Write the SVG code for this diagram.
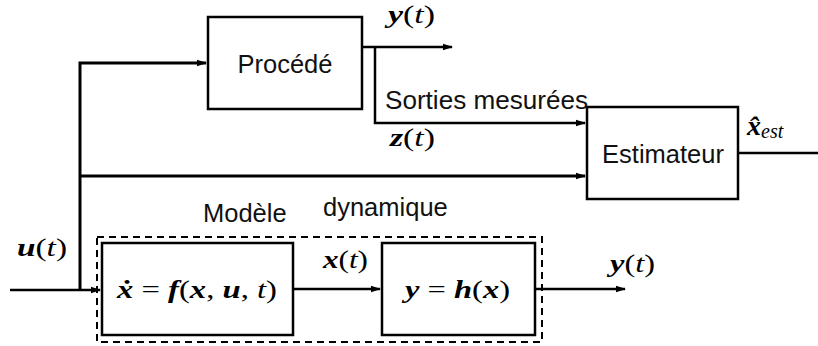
<svg xmlns="http://www.w3.org/2000/svg" width="818" height="346" viewBox="0 0 818 346">
<defs>
<marker id="ah" markerWidth="10" markerHeight="8" refX="9" refY="4" orient="auto" markerUnits="userSpaceOnUse">
<path d="M0,0.8 L10,4 L0,7.2 Z" fill="#000"/>
</marker>
<style>
.box{fill:#fff;stroke:#000;stroke-width:2.5}
.dash{fill:none;stroke:#000;stroke-width:2;stroke-dasharray:7,5}
.ln{fill:none;stroke:#000;stroke-width:2.5}
.thk{fill:none;stroke:#000;stroke-width:3}
.lbl{font-family:"Liberation Sans",Arial,sans-serif;font-size:25.5px;fill:#111}
.m{font-family:"Liberation Serif","Times New Roman",serif;font-size:25px;font-weight:normal;font-style:normal;fill:#000}
.v{font-style:italic;font-weight:bold}
.i{font-style:italic;font-weight:normal}
.r{font-style:normal;font-weight:normal}
</style>
</defs>

<g id="connectors">
<path class="thk" d="M80,290 L80,63 L206,63" marker-end="url(#ah)"/>
<path class="thk" d="M80,176 L585,176" marker-end="url(#ah)"/>
<path class="ln" d="M10,290 L100,290" marker-end="url(#ah)"/>
<path class="ln" d="M362,47 L452,47" marker-end="url(#ah)"/>
<path class="ln" d="M375,47 L375,123 L585,123" marker-end="url(#ah)"/>
<path class="ln" d="M738,153 L818,153"/>
<path class="ln" d="M293,289 L380,289" marker-end="url(#ah)"/>
<path class="ln" d="M535,289 L625,289" marker-end="url(#ah)"/>
</g>

<g id="dynamic-model">
<rect class="dash" x="97" y="237" width="445" height="105"/>
<text class="lbl" x="203" y="222">Modèle</text>
<text class="lbl" x="323" y="216">dynamique</text>
</g>

<g id="procede">
<rect class="box" x="208" y="17" width="154" height="92"/>
<text class="lbl" x="285" y="73" text-anchor="middle">Procédé</text>
</g>

<g id="estimateur">
<rect class="box" x="587" y="107" width="151" height="92"/>
<text class="lbl" x="663" y="163" text-anchor="middle">Estimateur</text>
</g>

<g id="state-eq">
<rect class="box" x="102" y="243" width="191" height="92"/>
<text class="m" x="117" y="298" textLength="160" lengthAdjust="spacingAndGlyphs"><tspan class="v">x&#775;</tspan><tspan class="r"> = </tspan><tspan class="v">f</tspan><tspan class="r">(</tspan><tspan class="v">x</tspan><tspan class="r">, </tspan><tspan class="v">u</tspan><tspan class="r">, </tspan><tspan class="i">t</tspan><tspan class="r">)</tspan></text>
</g>

<g id="output-eq">
<rect class="box" x="382" y="243" width="153" height="92"/>
<text class="m" x="405" y="298" textLength="105" lengthAdjust="spacingAndGlyphs"><tspan class="v">y</tspan><tspan class="r"> = </tspan><tspan class="v">h</tspan><tspan class="r">(</tspan><tspan class="v">x</tspan><tspan class="r">)</tspan></text>
</g>

<g id="labels">
<text class="m" x="388" y="23" textLength="47" lengthAdjust="spacingAndGlyphs"><tspan class="v">y</tspan><tspan class="r">(</tspan><tspan class="i">t</tspan><tspan class="r">)</tspan></text>
<text class="lbl" x="385" y="109" textLength="203" lengthAdjust="spacingAndGlyphs">Sorties mesurées</text>
<text class="m" x="390" y="146" textLength="45" lengthAdjust="spacingAndGlyphs"><tspan class="v">z</tspan><tspan class="r">(</tspan><tspan class="i">t</tspan><tspan class="r">)</tspan></text>
<text class="m" x="747" y="135" style="font-size:28px"><tspan class="v">x&#770;</tspan><tspan class="i" style="font-size:20px" dy="3">est</tspan></text>
<text class="m" x="17" y="256" textLength="50" lengthAdjust="spacingAndGlyphs"><tspan class="v">u</tspan><tspan class="r">(</tspan><tspan class="i">t</tspan><tspan class="r">)</tspan></text>
<text class="m" x="323" y="268" textLength="45" lengthAdjust="spacingAndGlyphs"><tspan class="v">x</tspan><tspan class="r">(</tspan><tspan class="i">t</tspan><tspan class="r">)</tspan></text>
<text class="m" x="610" y="272" textLength="45" lengthAdjust="spacingAndGlyphs"><tspan class="v">y</tspan><tspan class="r">(</tspan><tspan class="i">t</tspan><tspan class="r">)</tspan></text>
</g>
</svg>
